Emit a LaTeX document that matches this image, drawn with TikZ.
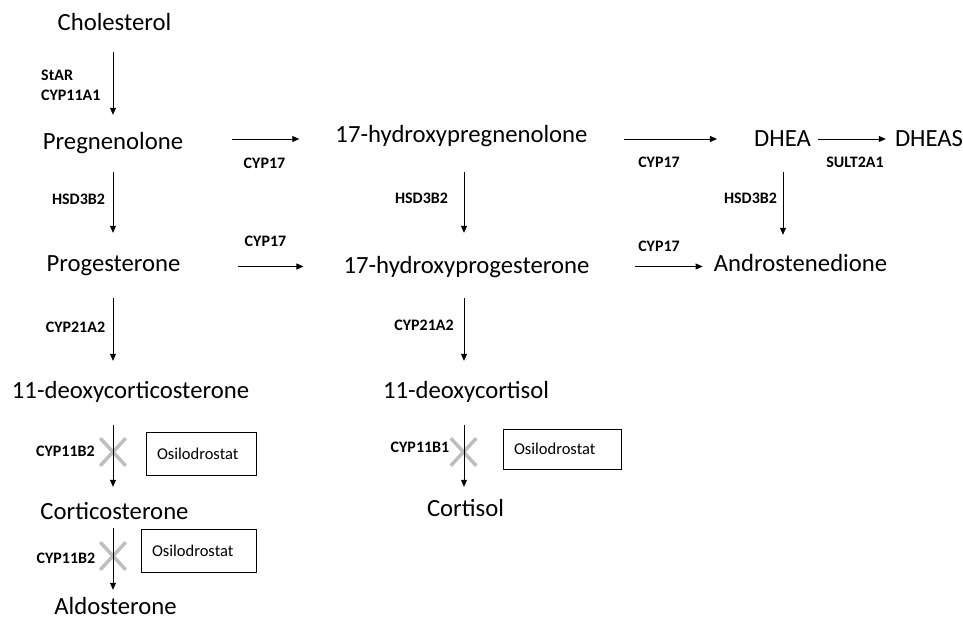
\documentclass[tikz,border=0pt]{standalone}
\usepackage{fontspec}
\setmainfont{Carlito}
\usetikzlibrary{arrows.meta,shapes.misc}

\tikzset{
  hormone/.style={font=\fontsize{24.7}{28}\selectfont, inner sep=0pt, text height=17pt, text depth=5pt},
  enzyme/.style={font=\bfseries\fontsize{16}{20}\selectfont, inner sep=0pt},
  drugbox/.style={draw, line width=0.8pt, font=\fontsize{16.5}{20}\selectfont, align=left, inner xsep=11pt, inner ysep=0pt},
  blocked/.style={cross out, draw=black!25, line width=3.5pt, inner sep=0pt, minimum width=22pt, minimum height=24pt},
  conv/.style={->, line width=0.8pt},
}

\begin{document}
\begin{tikzpicture}[x=1pt,y=-1pt,>={Stealth[length=7pt,width=6pt,inset=0pt]}]

  \useasboundingbox (0,0) rectangle (963,620);

  % Columns and rows of the arrows
  \coordinate (colL) at (113,0);
  \coordinate (colM) at (464,0);
  \coordinate (colR) at (783,0);
  \coordinate (row1) at (0,139);
  \coordinate (row2) at (0,266.5);

  % Left column
  \node (chol)    at (114.5,25)  [hormone] {Cholesterol};
  \node (preg)    at (113,144)   [hormone] {Pregnenolone};
  \node (prog)    at (113.5,266) [hormone] {Progesterone};
  \node (doc)     at (130.5,392) [hormone] {11-deoxycorticosterone};
  \node (cortico) at (114.5,513) [hormone] {Corticosterone};
  \node (aldo)    at (115.5,608) [hormone] {Aldosterone};

  % Middle column
  \node (ohpreg)   at (461.5,137) [hormone] {17-hydroxypregnenolone};
  \node (ohprog)   at (466.5,267) [hormone] {17-hydroxyprogesterone};
  \node (docl)     at (466,392)   [hormone] {11-deoxycortisol};
  \node (cortisol) at (465.5,510) [hormone] {Cortisol};

  % Right column
  \node (dhea)  at (782.5,141) [hormone] {DHEA};
  \node (dheas) at (929,141)   [hormone] {DHEAS};
  \node (andro) at (800.5,265) [hormone] {Androstenedione};

  % Blocked steps
  \node (xcort)  at (113,452)   [blocked] {};
  \node (xaldo)  at (113,556)   [blocked] {};
  \node (xcortl) at (463.5,452) [blocked] {};

  % Vertical conversions
  \draw[conv, shorten <=16pt, shorten >=18pt] (chol.south -| colL)    -- (preg.north -| colL);
  \draw[conv, shorten <=17pt, shorten >=22pt] (preg.south -| colL)    -- (prog.north -| colL);
  \draw[conv, shorten <=21pt, shorten >=20pt] (prog.south -| colL)    -- (doc.north -| colL);
  \draw[conv, shorten <=22pt, shorten >=15pt] (doc.south -| colL)     -- (cortico.north -| colL);
  \draw[conv, shorten <=4pt,  shorten >=7pt]  (cortico.south -| colL) -- (aldo.north -| colL);
  \draw[conv, shorten <=24pt, shorten >=23pt] (ohpreg.south -| colM)  -- (ohprog.north -| colM);
  \draw[conv, shorten <=20pt, shorten >=20pt] (ohprog.south -| colM)  -- (docl.north -| colM);
  \draw[conv, shorten <=22pt, shorten >=12pt] (docl.south -| colM)    -- (cortisol.north -| colM);
  \draw[conv, shorten <=20pt, shorten >=19pt] (dhea.south -| colR)    -- (andro.north -| colR);

  % Horizontal conversions
  \draw[conv, shorten <=49pt, shorten >=36pt] (preg.east |- row1)   -- (ohpreg.west |- row1);
  \draw[conv, shorten <=36pt, shorten >=37pt] (ohpreg.east |- row1) -- (dhea.west |- row1);
  \draw[conv, shorten <=7pt,  shorten >=9pt]  (dhea.east |- row1)   -- (dheas.west |- row1);
  \draw[conv, shorten <=57pt, shorten >=40pt] (prog.east |- row2)   -- (ohprog.west |- row2);
  \draw[conv, shorten <=45pt, shorten >=11pt] (ohprog.east |- row2) -- (andro.west |- row2);

  % Enzymes
  \node (starcyp) at (41,85)     [enzyme, anchor=west, align=left] {StAR\\CYP11A1};
  \node (hsdL)    at (78.5,199)  [enzyme] {HSD3B2};
  \node (cyp21L)  at (75.5,327)  [enzyme] {CYP21A2};
  \node (b2cort)  at (65.5,451)  [enzyme] {CYP11B2};
  \node (b2aldo)  at (66,558)    [enzyme] {CYP11B2};
  \node (cypA)    at (264.5,163) [enzyme] {CYP17};
  \node (cypD)    at (265.5,241) [enzyme] {CYP17};
  \node (hsdM)    at (421.5,198) [enzyme] {HSD3B2};
  \node (cyp21M)  at (424,325)   [enzyme] {CYP21A2};
  \node (b1cortl) at (420,447)   [enzyme] {CYP11B1};
  \node (cypB)    at (659,162)   [enzyme] {CYP17};
  \node (cypE)    at (659,246)   [enzyme] {CYP17};
  \node (sult)    at (855,162)   [enzyme] {SULT2A1};
  \node (hsdR)    at (750.5,198) [enzyme] {HSD3B2};

  % Inhibitor boxes
  \node (osiA) at (201,453.5) [drugbox, text width=88pt, minimum height=43pt] {Osilodrostat};
  \node (osiB) at (198.5,550.5) [drugbox, text width=93pt, minimum height=43pt] {Osilodrostat};
  \node (osiC) at (562,449)   [drugbox, text width=96pt, minimum height=40pt] {Osilodrostat};

\end{tikzpicture}
\end{document}
